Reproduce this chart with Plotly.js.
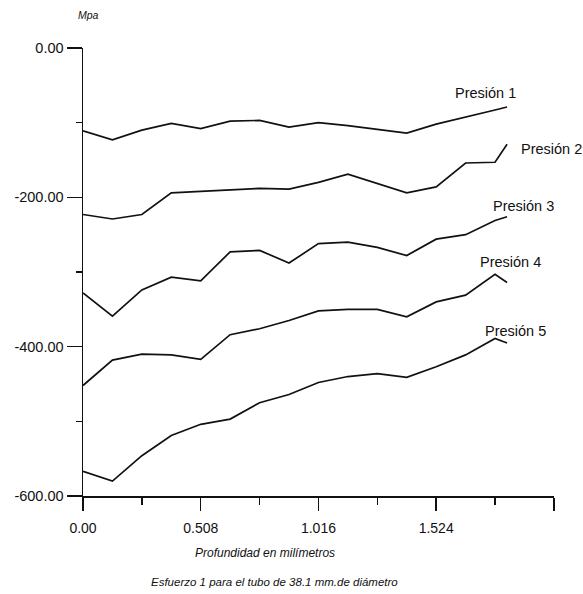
<!DOCTYPE html>
<html>
<head>
<meta charset="utf-8">
<script src="https://cdn.plot.ly/plotly-3.0.1.min.js"></script>
<style>
  html, body { margin: 0; padding: 0; background: #ffffff; }
  #chart { width: 583px; height: 594px; }
</style>
</head>
<body>
<div id="chart"></div>
<script>
// Profundidad (mm)
var depth = [0, 0.127, 0.254, 0.381, 0.508, 0.635, 0.762, 0.889, 1.016, 1.143, 1.27, 1.397, 1.524, 1.651, 1.778, 1.83];
// Esfuerzo (MPa) por presión
var presion1 = [-111, -123, -110, -101, -108, -98, -97, -106, -100, -104, -109, -114, -102, -92, -83, -79];
var presion2 = [-223, -229, -223, -194, -192, -190, -188, -189, -180, -169, -181, -194, -186, -154, -153, -129];
var presion3 = [-328, -359, -324, -307, -312, -273, -271, -288, -262, -260, -267, -278, -256, -250, -231, -226];
var presion4 = [-452, -418, -410, -411, -417, -384, -376, -365, -352, -350, -350, -360, -340, -331, -303, -314];
var presion5 = [-567, -580, -546, -519, -504, -497, -475, -464, -448, -440, -436, -441, -427, -411, -389, -395];
var seriesNames = ["Presión 1", "Presión 2", "Presión 3", "Presión 4", "Presión 5"];

var xTickVals = [0, 0.508, 1.016, 1.524, 2.032];
var xTickText = ["0.00", "0.508", "1.016", "1.524", ""];
var xMinorVals = [0.254, 0.762, 1.27, 1.778];
var yTickVals = [0, -200, -400, -600];
var yTickText = ["0.00", "-200.00", "-400.00", "-600.00"];
var yMinorVals = [-100, -300, -500];

var xTitle = "Profundidad en milímetros";
var caption = "Esfuerzo 1 para el tubo de 38.1 mm.de diámetro";
var yUnit = "Mpa";

var FONT = "Liberation Sans, Arial, Helvetica, sans-serif";
var INK = "#111111";

var allSeries = [presion1, presion2, presion3, presion4, presion5];
var labelPos = [
  {x: 1.735, y: -60},
  {x: 2.023, y: -135},
  {x: 1.90, y: -212},
  {x: 1.844, y: -286},
  {x: 1.867, y: -379}
];

var traces = allSeries.map(function (vals, i) {
  return {
    x: depth, y: vals, type: "scatter", mode: "lines", name: seriesNames[i],
    line: {color: INK, width: 1.7}, hoverinfo: "x+y+name"
  };
});

var annotations = seriesNames.map(function (n, i) {
  return {
    x: labelPos[i].x, y: labelPos[i].y, xref: "x", yref: "y", text: n,
    showarrow: false, xanchor: "center", yanchor: "middle",
    font: {family: FONT, size: 14.5, color: INK}
  };
});
annotations.push({
  x: 0.012, y: 1.073, xref: "paper", yref: "paper", text: "<i>" + yUnit + "</i>",
  showarrow: false, xanchor: "center", yanchor: "middle",
  font: {family: FONT, size: 10.5, color: INK}
});
annotations.push({
  x: 0.387, y: -0.128, xref: "paper", yref: "paper", text: "<i>" + xTitle + "</i>",
  showarrow: false, xanchor: "center", yanchor: "middle",
  font: {family: FONT, size: 12, color: INK}
});
annotations.push({
  x: 0.406, y: -0.192, xref: "paper", yref: "paper", text: "<i>" + caption + "</i>",
  showarrow: false, xanchor: "center", yanchor: "middle",
  font: {family: FONT, size: 11.5, color: INK}
});

var layout = {
  width: 583, height: 594,
  margin: {l: 83, r: 29, t: 48, b: 98},
  paper_bgcolor: "#ffffff", plot_bgcolor: "#ffffff",
  showlegend: false,
  font: {family: FONT, color: INK},
  xaxis: {
    range: [0, 2.0325], showgrid: false, zeroline: false,
    showline: true, linecolor: INK, linewidth: 1.5,
    tickmode: "array", tickvals: xTickVals, ticktext: xTickText,
    ticks: "outside", ticklen: 13, tickwidth: 1.5, tickcolor: INK,
    ticklabelstandoff: 6,
    tickfont: {family: FONT, size: 14, color: INK},
    minor: {tickmode: "array", tickvals: xMinorVals, ticks: "outside", ticklen: 7, tickwidth: 1.5, tickcolor: INK, showgrid: false}
  },
  yaxis: {
    range: [-600, 0], showgrid: false, zeroline: false,
    showline: true, linecolor: INK, linewidth: 1.5,
    tickmode: "array", tickvals: yTickVals, ticktext: yTickText,
    ticks: "outside", ticklen: 15, tickwidth: 1.5, tickcolor: INK,
    ticklabelstandoff: 0,
    tickfont: {family: FONT, size: 14.5, color: INK},
    minor: {tickmode: "array", tickvals: yMinorVals, ticks: "outside", ticklen: 6, tickwidth: 1.5, tickcolor: INK, showgrid: false}
  },
  annotations: annotations
};

Plotly.newPlot("chart", traces, layout, {displayModeBar: false, staticPlot: true});
</script>
</body>
</html>
